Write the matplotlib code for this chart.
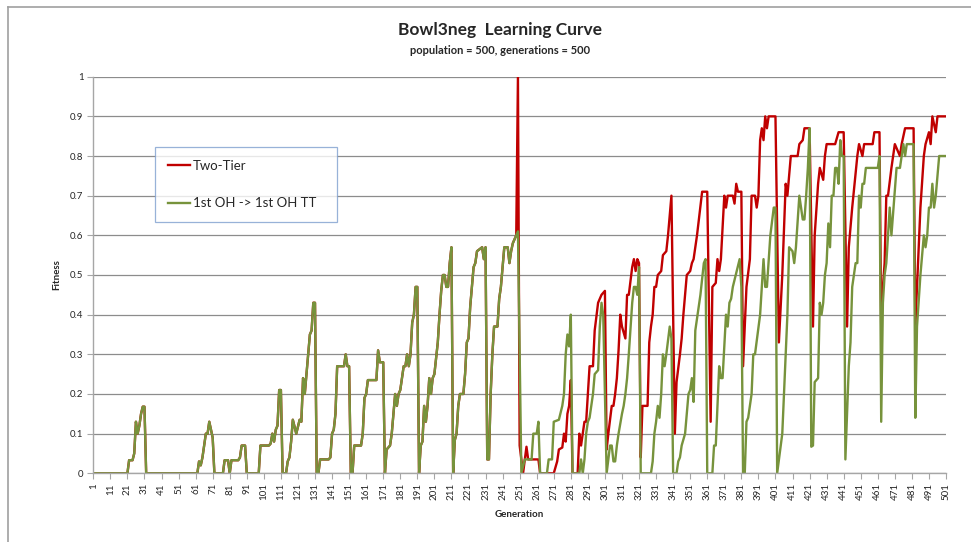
import matplotlib
matplotlib.use("Agg")
import matplotlib.pyplot as plt
from matplotlib.lines import Line2D

plt.rcParams['font.family'] = ['Lato', 'DejaVu Sans']

# both runs are identical up to generation 249
shared_gen = [1, 21, 22, 24, 25, 26, 27, 28, 29, 30, 31, 32,
              62, 63, 64, 65, 66, 67, 68, 69, 70, 71, 72,
              77, 78, 80, 81, 82, 86, 87, 88, 90, 91,
              98, 99, 104, 105, 106, 107, 108, 109, 110, 111, 112,
              114, 115, 116, 117, 118, 120, 122, 123, 124, 125, 127, 128, 129, 130, 131, 132,
              133, 134, 139, 140, 141, 142, 143, 144, 148, 149, 150, 151, 152,
              153, 154, 158, 159, 160, 161, 162, 167, 168, 169, 171, 172,
              173, 175, 176, 178, 179, 180, 181, 183, 184, 185, 186, 187, 188, 189, 190, 191, 192,
              193, 194, 195, 196, 197, 198, 199, 200, 201, 203, 204, 205, 206, 207, 208, 209, 210, 211, 212,
              213, 214, 215, 216, 218, 219, 220, 221, 222, 224, 225, 226, 229, 230, 231, 232, 233,
              234, 235, 236, 238, 239, 240, 242, 244, 245, 246, 247, 249]
shared_fit = [0, 0, 0.033, 0.033, 0.05, 0.13, 0.10, 0.12, 0.15, 0.168, 0.168, 0,
              0, 0.03, 0.02, 0.04, 0.07, 0.10, 0.10, 0.13, 0.11, 0.09, 0,
              0, 0.033, 0.033, 0, 0.033, 0.033, 0.04, 0.07, 0.07, 0,
              0, 0.07, 0.07, 0.075, 0.10, 0.08, 0.11, 0.12, 0.21, 0.21, 0,
              0, 0.03, 0.04, 0.08, 0.135, 0.10, 0.135, 0.13, 0.24, 0.20, 0.30, 0.35, 0.36, 0.43, 0.43, 0,
              0, 0.035, 0.035, 0.04, 0.10, 0.11, 0.15, 0.27, 0.27, 0.30, 0.27, 0.27, 0,
              0, 0.07, 0.07, 0.10, 0.19, 0.20, 0.235, 0.235, 0.31, 0.28, 0.28, 0,
              0.06, 0.07, 0.10, 0.20, 0.17, 0.20, 0.21, 0.27, 0.27, 0.30, 0.27, 0.30, 0.38, 0.40, 0.47, 0.47, 0,
              0.07, 0.08, 0.17, 0.13, 0.17, 0.24, 0.20, 0.24, 0.25, 0.33, 0.40, 0.46, 0.50, 0.50, 0.47, 0.47, 0.53, 0.57, 0,
              0.084, 0.10, 0.17, 0.20, 0.20, 0.25, 0.33, 0.34, 0.42, 0.52, 0.53, 0.56, 0.57, 0.54, 0.57, 0.035, 0.035,
              0.20, 0.30, 0.37, 0.37, 0.44, 0.47, 0.57, 0.57, 0.53, 0.56, 0.58, 0.60]

two_tier_gen = [250, 251, 253, 255, 256, 262, 263, 271, 273, 274, 276, 277, 278, 279, 280, 281, 282,
                285, 286, 287, 288, 289, 290, 292, 294, 295, 297, 299, 301, 302, 303, 305, 306, 307,
                308, 309, 310, 311, 313, 314, 315, 317, 318, 319, 320, 321, 322, 323, 326, 327, 328,
                329, 330, 331, 332, 334, 335, 337, 338, 340, 342, 343, 345, 346, 347, 349, 351, 352,
                353, 355, 358, 361, 363, 364, 366, 367, 368, 369, 371, 372, 373, 376, 377, 378, 379,
                381, 382, 384, 386, 387, 389, 390, 391, 392, 393, 394, 395, 396, 397, 401, 403, 405,
                407, 408, 410, 414, 415, 417, 418, 421, 423, 424, 426, 427, 429, 430, 431, 436, 438,
                441, 443, 444, 446, 449, 450, 452, 453, 458, 459, 462, 463, 464, 465, 466, 467, 469,
                471, 474, 475, 477, 482, 483, 485, 486, 488, 489, 491, 492, 493, 495, 496, 501]
two_tier_fit = [1.0, 0.07, 0, 0.067, 0.035, 0.035, 0, 0, 0.03, 0.06, 0.065, 0.10, 0.08, 0.15, 0.17, 0.235, 0,
                0, 0.10, 0.07, 0.10, 0.13, 0.13, 0.27, 0.27, 0.36, 0.43, 0.45, 0.46, 0.06, 0.10, 0.17, 0.17, 0.20,
                0.24, 0.31, 0.40, 0.37, 0.34, 0.45, 0.45, 0.52, 0.54, 0.51, 0.54, 0.53, 0.04, 0.17, 0.17, 0.33, 0.37,
                0.40, 0.47, 0.47, 0.50, 0.51, 0.55, 0.56, 0.60, 0.70, 0.10, 0.23, 0.30, 0.34, 0.40, 0.50, 0.51, 0.53,
                0.54, 0.60, 0.71, 0.71, 0.13, 0.47, 0.48, 0.54, 0.51, 0.54, 0.70, 0.67, 0.70, 0.70, 0.68, 0.73, 0.71,
                0.71, 0.27, 0.47, 0.54, 0.70, 0.70, 0.67, 0.70, 0.84, 0.87, 0.84, 0.90, 0.87, 0.90, 0.90, 0.33, 0.50,
                0.73, 0.70, 0.80, 0.80, 0.83, 0.84, 0.87, 0.87, 0.37, 0.60, 0.73, 0.77, 0.74, 0.80, 0.83, 0.83, 0.86,
                0.86, 0.37, 0.57, 0.67, 0.80, 0.83, 0.80, 0.83, 0.83, 0.86, 0.86, 0.37, 0.47, 0.53, 0.70, 0.70, 0.77,
                0.83, 0.80, 0.83, 0.87, 0.87, 0.37, 0.57, 0.67, 0.80, 0.83, 0.86, 0.83, 0.90, 0.86, 0.90, 0.90]

oh_tt_gen = [250, 252, 254, 258, 259, 261, 262, 263, 267, 268, 270, 271, 274, 276, 277, 278, 279, 280, 281, 282,
             286, 287, 288, 289, 290, 291, 292, 294, 295, 297, 298, 299, 300, 302, 303, 304, 305, 306, 307,
             308, 309, 311, 312, 313, 314, 315, 317, 318, 319, 320, 321, 322, 328, 329, 330, 331, 332, 333,
             334, 335, 336, 337, 339, 340, 341, 343, 344, 345, 346, 348, 350, 351, 352, 353, 354, 356, 357,
             359, 360, 361, 364, 365, 366, 368, 369, 370, 372, 373, 374, 375, 376, 380, 381, 382, 383, 384,
             385, 387, 388, 389, 392, 394, 395, 396, 398, 400, 401, 402, 404, 405, 406, 407, 408, 409, 411,
             412, 413, 415, 416, 417, 418, 419, 420, 421, 422, 423, 424, 426, 427, 428, 429, 430, 431, 432,
             433, 434, 435, 436, 437, 438, 439, 440, 441, 442, 444, 445, 446, 448, 449, 450, 451, 452, 453,
             454, 461, 462, 463, 464, 465, 466, 468, 469, 472, 474, 475, 476, 477, 478, 482, 483, 484, 486,
             488, 489, 490, 491, 492, 493, 494, 495, 497, 501]
oh_tt_fit = [0.61, 0, 0.035, 0.035, 0.10, 0.10, 0.13, 0, 0, 0.035, 0.035, 0.13, 0.135, 0.17, 0.20, 0.30, 0.35, 0.32, 0.40, 0,
             0, 0.035, 0, 0.035, 0.10, 0.13, 0.14, 0.20, 0.25, 0.26, 0.37, 0.43, 0.40, 0, 0.035, 0.07, 0.07, 0.03, 0.03,
             0.07, 0.10, 0.15, 0.17, 0.20, 0.24, 0.30, 0.43, 0.47, 0.47, 0.45, 0.52, 0, 0, 0.03, 0.10, 0.13, 0.17, 0.14,
             0.20, 0.30, 0.27, 0.30, 0.37, 0.34, 0, 0, 0.03, 0.04, 0.07, 0.10, 0.20, 0.21, 0.24, 0.18, 0.36, 0.42, 0.45,
             0.53, 0.54, 0, 0, 0.07, 0.07, 0.27, 0.24, 0.24, 0.40, 0.37, 0.43, 0.44, 0.47, 0.54, 0.47, 0, 0, 0.13,
             0.14, 0.20, 0.30, 0.30, 0.40, 0.54, 0.47, 0.47, 0.60, 0.67, 0.67, 0, 0.067, 0.10, 0.20, 0.30, 0.40, 0.57, 0.56,
             0.53, 0.57, 0.70, 0.67, 0.64, 0.64, 0.70, 0.77, 0.87, 0.067, 0.07, 0.23, 0.24, 0.43, 0.40, 0.43, 0.50, 0.53, 0.63,
             0.57, 0.70, 0.70, 0.77, 0.77, 0.73, 0.84, 0.80, 0.80, 0.035, 0.27, 0.33, 0.47, 0.53, 0.53, 0.70, 0.67, 0.73, 0.73,
             0.77, 0.77, 0.80, 0.13, 0.43, 0.50, 0.53, 0.67, 0.60, 0.77, 0.77, 0.80, 0.83, 0.80, 0.83, 0.83, 0.14, 0.37, 0.50,
             0.60, 0.57, 0.60, 0.67, 0.67, 0.73, 0.67, 0.70, 0.80, 0.80]

series_names = ["Two-Tier", "1st OH -> 1st OH TT"]
x_ticks = list(range(1, 502, 10))
y_ticks = [i / 10 for i in range(11)]

red = '#C00000'
green = '#77933C'
axis_gray = '#a6a6a6'
grid_gray = '#8c8c8c'
txt = '#262626'

fig = plt.figure(figsize=(9.71, 5.42), dpi=100)
ax = fig.add_axes([93.3 / 971, 1 - 473.3 / 542, (946 - 93.3) / 971, (473.3 - 76.7) / 542])

ax.plot(shared_gen + two_tier_gen, shared_fit + two_tier_fit, color=red, lw=1.7,
        label=series_names[0], solid_joinstyle='round', zorder=3)
ax.plot(shared_gen + oh_tt_gen, shared_fit + oh_tt_fit, color=green, lw=1.7,
        label=series_names[1], solid_joinstyle='round', zorder=4)

ax.set_xlim(1, 501)
ax.set_ylim(0, 1)
ax.set_xticks(x_ticks)
ax.set_xticklabels([str(t) for t in x_ticks], rotation=90, fontsize=7, color=txt)
ax.set_yticks(y_ticks)
ax.set_yticklabels(['0' if v == 0 else ('1' if v == 1 else '%.1f' % v) for v in y_ticks],
                   fontsize=7, color=txt)
ax.tick_params(axis='both', direction='out', length=4, width=0.8, color=axis_gray, pad=3)
ax.grid(axis='y', color=grid_gray, lw=0.9)
ax.set_axisbelow(True)
for s in ['top', 'right']:
    ax.spines[s].set_visible(False)
for s in ['left', 'bottom']:
    ax.spines[s].set_color(axis_gray)
    ax.spines[s].set_linewidth(1.0)
    ax.spines[s].set_zorder(5)

ax.set_xlabel('Generation', fontsize=7, fontweight='bold', color=txt, labelpad=7)
ax.set_ylabel('Fitness', fontsize=7, fontweight='bold', color=txt, labelpad=6)

fig.text(500 / 971, 1 - 30 / 542, 'Bowl3neg  Learning Curve', ha='center', va='center',
         fontsize=12.5, fontweight='bold', color=txt)
fig.text(500 / 971, 1 - 51 / 542, 'population = 500, generations = 500', ha='center', va='center',
         fontsize=8, fontweight='bold', color=txt)

leg = ax.legend(loc='upper left', bbox_to_anchor=(155 / 971, 1 - 147 / 542 - 0.01, 182 / 971, 0.01),
                bbox_transform=fig.transFigure, mode='expand', fontsize=9.5, frameon=True,
                fancybox=False, handlelength=1.7, handletextpad=0.2, labelspacing=1.95,
                borderpad=0.95, borderaxespad=0)
leg.get_frame().set_edgecolor('#7f9fcf')
leg.get_frame().set_linewidth(0.9)
for t in leg.get_texts():
    t.set_color(txt)

# outer chart frame (top and left edges visible)
fig.add_artist(Line2D([8 / 971, 8 / 971], [0, 1 - 7 / 542], transform=fig.transFigure,
                      color='#a0a0a0', lw=1.2))
fig.add_artist(Line2D([8 / 971, 1], [1 - 7 / 542, 1 - 7 / 542], transform=fig.transFigure,
                      color='#a0a0a0', lw=1.2))

fig.savefig('out.png', dpi=100)
